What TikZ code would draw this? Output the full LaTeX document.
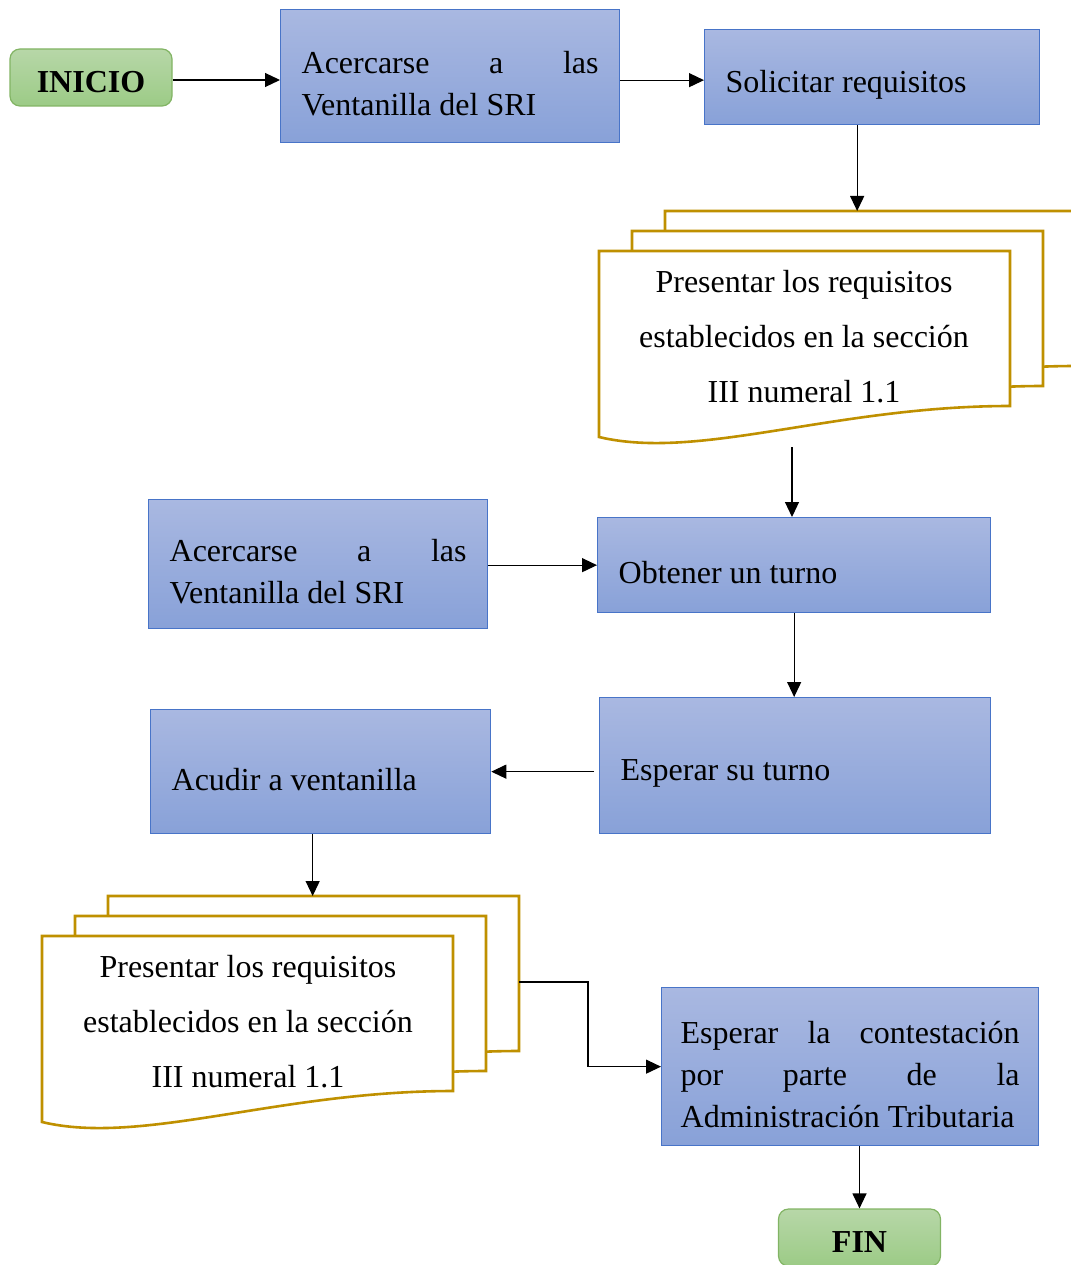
\documentclass[tikz,border=0pt]{standalone}
\usepackage{fontspec}
\setmainfont{Liberation Serif}
\usetikzlibrary{arrows.meta}

\definecolor{proctop}{RGB}{169,184,225}
\definecolor{procbot}{RGB}{136,161,216}
\definecolor{procline}{RGB}{72,116,200}
\definecolor{termtop}{RGB}{183,215,168}
\definecolor{termbot}{RGB}{156,203,134}
\definecolor{termline}{RGB}{130,180,100}
\definecolor{docgold}{RGB}{191,144,0}

\tikzset{
  docsheet/.pic={
    \draw[docline] (0,0) -- (411,0) -- (411,155) .. controls +(-175,0) and +(100,24) .. (0,186) -- cycle;
  },
  docstack/.pic={
    \pic at (66,-40) {docsheet};
    \pic at (33,-20) {docsheet};
    \pic at (0,0) {docsheet};
    \coordinate (-top) at (66,-40);
    \coordinate (-out) at (477,46);
    \coordinate (-foot) at (193,196);
  }
}

\begin{document}
\begin{tikzpicture}[x=1pt, y=-1pt,
    terminal/.style={draw=termline, line width=1.2pt, rounded corners=10pt, top color=termtop, bottom color=termbot, minimum width=162pt, minimum height=57pt, font=\bfseries\fontsize{32}{38}\selectfont, execute at begin node={\rule{0pt}{30pt}}},
    process/.style={draw=procline, line width=1.3pt, top color=proctop, bottom color=procbot, anchor=north west, align=left, inner xsep=21pt, font=\fontsize{32}{42}\selectfont, execute at begin node={\spaceskip=0pt\rule{0pt}{37pt}}},
    doctext/.style={align=center, font=\fontsize{32}{55}\selectfont},
    docline/.style={draw=docgold, line width=2.6pt, fill=white},
    flow/.style={line width=1.2pt, -{Triangle[length=15pt,width=14pt]}}
  ]
    \useasboundingbox (0,0) rectangle (1070,1265);

    % Top row.
    \node[terminal] at (91,77.5) (inicio) {INICIO};
    \node[process, minimum width=339pt, minimum height=133pt, text width=297pt] at (280,9) (acer1) {Acercarse \hfill a \hfill las\\Ventanilla del SRI};
    \node[process, minimum width=335pt, minimum height=95pt, text width=293pt] at (704,29) (solicitar) {Solicitar requisitos};

    % First stack of documents.
    \pic (d1) at (599,251) {docstack};
    \node[doctext] at (804,337) (req1) {Presentar los requisitos\\establecidos en la sección\\III numeral 1.1};

    % Middle rows.
    \node[process, minimum width=339pt, minimum height=129pt, text width=297pt] at (148,499) (acer2) {Acercarse \hfill a \hfill las\\Ventanilla del SRI};
    \node[process, minimum width=393pt, minimum height=95pt, text width=351pt] at (597,517) (obtener) {Obtener un turno};
    \node[process, minimum width=391pt, minimum height=136pt, text width=349pt] at (599,697) (esperar) {Esperar su turno};
    \node[process, minimum width=340pt, minimum height=124pt, text width=298pt] at (150,709) (acudir) {Acudir a ventanilla};

    % Second stack of documents.
    \pic (d2) at (42,936) {docstack};
    \node[doctext] at (248,1022) (req2) {Presentar los requisitos\\establecidos en la sección\\III numeral 1.1};

    % Bottom.
    \node[process, minimum width=377pt, minimum height=158pt, text width=339pt, inner xsep=19pt] at (661,987) (contest) {Esperar \hfill la \hfill contestación\\por \hfill parte \hfill de \hfill la\\Administración~Tributaria};
    \node[terminal] at (859.5,1237.5) (fin) {FIN};

    % Connectors.
    \draw[flow] ([yshift=-2.5pt]inicio.east) -- ([yshift=-2.5pt]inicio.east -| acer1.west);
    \draw[flow] ([yshift=-4pt]acer1.east) -- ([yshift=-4pt]acer1.east -| solicitar.west);
    \draw[flow] ([xshift=-15pt]solicitar.south) -- ([xshift=-15pt]solicitar.south |- d1-top);
    \draw[flow] (d1-foot) -- (d1-foot |- obtener.north);
    \draw[flow] (acer2.east |- obtener) -- (obtener.west);
    \draw[flow] (obtener.south) -- (obtener.south |- esperar.north);
    \draw[flow] ([xshift=-5pt]esperar.west |- acudir) -- (acudir.east);
    \draw[flow] ([xshift=-8pt]acudir.south) -- ([xshift=-8pt]acudir.south |- d2-top);
    \draw[flow] (d2-out) -- ++(69,0) |- (contest.west);
    \draw[flow] (contest.south -| fin) -- (fin.north);
  \end{tikzpicture}
\end{document}
